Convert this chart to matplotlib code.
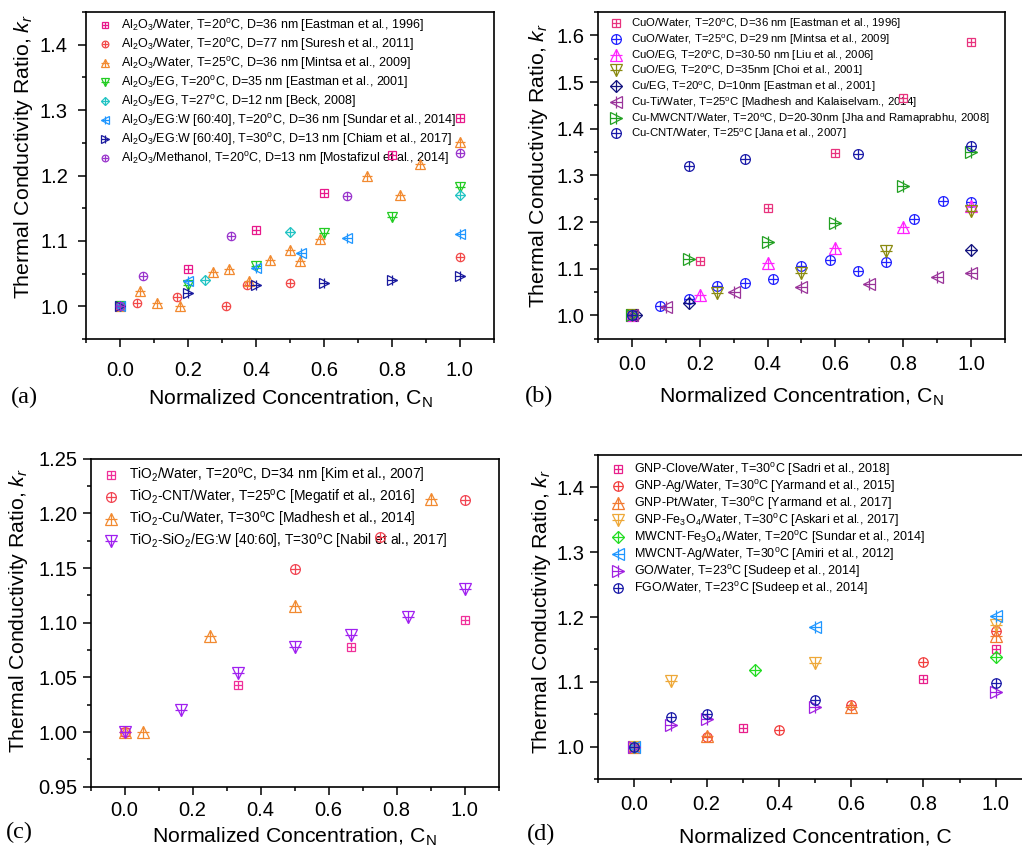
import numpy as np
import matplotlib
matplotlib.use('Agg')
import matplotlib.pyplot as plt
from matplotlib.ticker import MultipleLocator
from matplotlib.legend_handler import HandlerTuple

plt.rcParams['font.family'] = ['Liberation Sans', 'DejaVu Sans']
plt.rcParams['mathtext.fontset'] = 'custom'
plt.rcParams['mathtext.rm'] = 'Liberation Sans'
plt.rcParams['mathtext.it'] = 'Liberation Sans:italic'
plt.rcParams['mathtext.default'] = 'regular'

# ---------------- panel (a): Al2O3 ----------------
A_LABELS = [
    r'Al$_2$O$_3$/Water, T=20$^o$C, D=36 nm [Eastman et al., 1996]',
    r'Al$_2$O$_3$/Water, T=20$^o$C, D=77 nm [Suresh et al., 2011]',
    r'Al$_2$O$_3$/Water, T=25$^o$C, D=36 nm [Mintsa et al., 2009]',
    r'Al$_2$O$_3$/EG, T=20$^o$C, D=35 nm [Eastman et al., 2001]',
    r'Al$_2$O$_3$/EG, T=27$^o$C, D=12 nm [Beck, 2008]',
    r'Al$_2$O$_3$/EG:W [60:40], T=20$^o$C, D=36 nm [Sundar et al., 2014]',
    r'Al$_2$O$_3$/EG:W [60:40], T=30$^o$C, D=13 nm [Chiam et al., 2017]',
    r'Al$_2$O$_3$/Methanol, T=20$^o$C, D=13 nm [Mostafizul et al., 2014]',
]
A_X = [
    [0, 0.2, 0.4, 0.6, 0.8, 1.0],
    [0, 0.051, 0.167, 0.312, 0.375, 0.5, 1.0],
    [0, 0.058, 0.11, 0.176, 0.275, 0.32, 0.379, 0.441, 0.5, 0.531, 0.588, 0.727, 0.825, 0.884, 1.0],
    [0, 0.2, 0.4, 0.6, 0.8, 1.0],
    [0, 0.25, 0.5, 1.0],
    [0, 0.2, 0.4, 0.533, 0.667, 1.0],
    [0, 0.2, 0.4, 0.6, 0.8, 1.0],
    [0, 0.067, 0.327, 0.667, 1.0],
]
A_Y = [
    [1.0, 1.057, 1.116, 1.174, 1.231, 1.288],
    [1.0, 1.005, 1.014, 1.0, 1.033, 1.036, 1.076],
    [1.0, 1.024, 1.005, 1.001, 1.052, 1.057, 1.039, 1.071, 1.086, 1.070, 1.103, 1.200, 1.171, 1.217, 1.251],
    [1.0, 1.033, 1.062, 1.112, 1.136, 1.183],
    [1.0, 1.041, 1.113, 1.170],
    [1.0, 1.039, 1.058, 1.081, 1.105, 1.111],
    [1.0, 1.020, 1.032, 1.036, 1.041, 1.046],
    [1.0, 1.047, 1.108, 1.169, 1.234],
]
A_COLORS = ['#E8198C', '#F24848', '#F28A30', '#22CC22', '#22C4C4', '#1E96FF', '#1A1A9E', '#9933CC']
A_MARKERS = ['s', 'o', '^', 'v', 'D', '<', '>', 'o']

# ---------------- panel (b): Cu / CuO ----------------
B_LABELS = [
    r'CuO/Water, T=20$^o$C, D=36 nm [Eastman et al., 1996]',
    r'CuO/Water, T=25$^o$C, D=29 nm [Mintsa et al., 2009]',
    r'CuO/EG, T=20$^o$C, D=30-50 nm [Liu et al., 2006]',
    r'CuO/EG, T=20$^o$C, D=35nm [Choi et al., 2001]',
    r'Cu/EG, T=20$^o$C, D=10nm [Eastman et al., 2001]',
    r'Cu-Ti/Water, T=25$^o$C [Madhesh and Kalaiselvam., 2014]',
    r'Cu-MWCNT/Water, T=20$^o$C, D=20-30nm [Jha and Ramaprabhu, 2008]',
    r'Cu-CNT/Water, T=25$^o$C [Jana et al., 2007]',
]
B_X = [
    [0, 0.2, 0.4, 0.6, 0.8, 1.0],
    [0, 0.083, 0.167, 0.25, 0.333, 0.417, 0.5, 0.583, 0.667, 0.75, 0.833, 0.917, 1.0],
    [0, 0.2, 0.4, 0.6, 0.8, 1.0],
    [0, 0.25, 0.5, 0.75, 1.0],
    [0.012, 0.167, 1.0],
    [0, 0.1, 0.3, 0.5, 0.7, 0.9, 1.0],
    [0, 0.167, 0.4, 0.6, 0.8, 1.0],
    [0, 0.167, 0.333, 0.667, 1.0],
]
B_Y = [
    [1.0, 1.117, 1.229, 1.348, 1.466, 1.586],
    [1.0, 1.019, 1.035, 1.062, 1.070, 1.078, 1.105, 1.119, 1.095, 1.114, 1.206, 1.246, 1.243],
    [1.0, 1.044, 1.112, 1.144, 1.190, 1.235],
    [1.0, 1.048, 1.090, 1.138, 1.223],
    [1.0, 1.026, 1.139],
    [1.0, 1.017, 1.050, 1.061, 1.068, 1.083, 1.091],
    [1.0, 1.120, 1.158, 1.198, 1.277, 1.350],
    [1.0, 1.320, 1.336, 1.346, 1.362],
]
B_COLORS = ['#E8337E', '#2222FF', '#FF22FF', '#8A8A10', '#12127E', '#993399', '#22A022', '#1A1AA8']
B_MARKERS = ['s', 'o', '^', 'v', 'D', '<', '>', 'o']

# ---------------- panel (c): TiO2 ----------------
C_LABELS = [
    r'TiO$_2$/Water, T=20$^o$C, D=34 nm [Kim et al., 2007]',
    r'TiO$_2$-CNT/Water, T=25$^o$C [Megatif et al., 2016]',
    r'TiO$_2$-Cu/Water, T=30$^o$C [Madhesh et al., 2014]',
    r'TiO$_2$-SiO$_2$/EG:W [40:60], T=30$^o$C [Nabil et al., 2017]',
]
C_X = [
    [0, 0.333, 0.667, 1.0],
    [0, 0.5, 0.75, 1.0],
    [0, 0.055, 0.25, 0.5, 0.9],
    [0, 0.167, 0.333, 0.5, 0.667, 0.833, 1.0],
]
C_Y = [
    [1.0, 1.043, 1.078, 1.102],
    [1.0, 1.149, 1.178, 1.212],
    [1.0, 1.0, 1.088, 1.115, 1.213],
    [1.0, 1.020, 1.054, 1.078, 1.089, 1.105, 1.131],
]
C_COLORS = ['#F0309A', '#F24452', '#F28A30', '#A020F0']
C_MARKERS = ['s', 'o', '^', 'v']

# ---------------- panel (d): graphene / CNT hybrids ----------------
D_LABELS = [
    r'GNP-Clove/Water, T=30$^o$C [Sadri et al., 2018]',
    r'GNP-Ag/Water, T=30$^o$C [Yarmand et al., 2015]',
    r'GNP-Pt/Water, T=30$^o$C [Yarmand et al., 2017]',
    r'GNP-Fe$_3$O$_4$/Water, T=30$^o$C [Askari et al., 2017]',
    r'MWCNT-Fe$_3$O$_4$/Water, T=20$^o$C [Sundar et al., 2014]',
    r'MWCNT-Ag/Water, T=30$^o$C [Amiri et al., 2012]',
    r'GO/Water, T=23$^o$C [Sudeep et al., 2014]',
    r'FGO/Water, T=23$^o$C [Sudeep et al., 2014]',
]
D_X = [
    [0, 0.3, 0.8, 1.0],
    [0, 0.2, 0.4, 0.6, 0.8, 1.0],
    [0, 0.2, 0.6, 1.0],
    [0, 0.1, 0.5, 1.0],
    [0, 0.333, 1.0],
    [0, 0.5, 1.0],
    [0, 0.1, 0.2, 0.5, 1.0],
    [0, 0.1, 0.2, 0.5, 1.0],
]
D_Y = [
    [1.0, 1.029, 1.104, 1.150],
    [1.0, 1.015, 1.026, 1.064, 1.130, 1.179],
    [1.0, 1.017, 1.061, 1.171],
    [1.0, 1.102, 1.129, 1.188],
    [1.0, 1.118, 1.139],
    [1.0, 1.185, 1.201],
    [1.0, 1.033, 1.043, 1.062, 1.084],
    [1.0, 1.046, 1.051, 1.072, 1.098],
]
D_COLORS = ['#E8208C', '#F24040', '#F27A30', '#EEA838', '#22DD22', '#1E96FF', '#A020E0', '#1A1AA8']
D_MARKERS = ['s', 'o', '^', 'v', 'D', '<', '>', 'o']

# marker size factor (open marker, plus sign)
MK_SCALE = {'s': (0.85, 0.85), 'o': (1.0, 1.0), '^': (1.25, 1.25), 'v': (1.25, 1.25),
            '<': (1.25, 1.25), '>': (1.25, 1.25), 'D': (0.85, 1.2)}

LABEL_FS = 15.3


def draw_series(ax, x, y, marker, color, ms):
    fo, fp = MK_SCALE[marker]
    h1, = ax.plot(x, y, ls='none', marker=marker, mfc='none', mec=color,
                  ms=ms * fo, mew=0.9, zorder=3, clip_on=False)
    h2, = ax.plot(x, y, ls='none', marker='+', color=color,
                  ms=ms * fp, mew=0.9, zorder=3, clip_on=False)
    return (h1, h2)


def make_panel(rect, xs, ys, labels, colors, markers, ylim, ymaj, ymin, yfmt, ms,
               leg, xpad, ypad, xl_y, yl_xy, xlabel, tag, tag_pos):
    leg_fs, leg_anchor, leg_space, mscale = leg
    ax = fig.add_axes(rect)
    handles = []
    for x, y, c, m in zip(xs, ys, colors, markers):
        handles.append(draw_series(ax, x, y, m, c, ms))
    ax.set_xlim(-0.1, 1.1)
    ax.set_ylim(*ylim)
    ax.xaxis.set_major_locator(MultipleLocator(0.2))
    ax.xaxis.set_minor_locator(MultipleLocator(0.1))
    ax.yaxis.set_major_locator(MultipleLocator(ymaj))
    ax.yaxis.set_minor_locator(MultipleLocator(ymin))
    ax.yaxis.set_major_formatter(plt.FormatStrFormatter(yfmt))
    ax.tick_params(which='both', direction='out', top=False, right=False, width=1.1,
                   labelsize=14.5)
    ax.tick_params(which='major', length=6)
    ax.tick_params(which='minor', length=3)
    ax.tick_params(axis='x', which='major', pad=xpad)
    ax.tick_params(axis='y', which='major', pad=ypad)
    for s in ax.spines.values():
        s.set_linewidth(1.2)
    ax.set_ylabel(r'Thermal Conductivity Ratio, $\mathit{k_r}$', fontsize=LABEL_FS,
                  va='center')
    ax.yaxis.set_label_coords(*yl_xy)
    ax.set_xlabel(xlabel, fontsize=LABEL_FS, va='baseline')
    ax.xaxis.set_label_coords(0.5, xl_y)
    lg = ax.legend(handles, labels, loc='upper left', bbox_to_anchor=leg_anchor,
                   frameon=False, fontsize=leg_fs, handlelength=1.0, handletextpad=0.8,
                   labelspacing=leg_space, borderaxespad=0, numpoints=1,
                   markerscale=mscale, handler_map={tuple: HandlerTuple(ndivide=1)})
    lg.set_zorder(2)
    fig.text(tag_pos[0], tag_pos[1], tag, fontsize=17.5, family='Liberation Serif',
             va='center', ha='left')
    return ax


fig = plt.figure(figsize=(10.22, 8.48), dpi=100)

XL_N = r'Normalized Concentration, C$_N$'

make_panel([0.0841, 0.6002, 0.3992, 0.3856], A_X, A_Y, A_LABELS, A_COLORS, A_MARKERS,
           (0.95, 1.45), 0.1, 0.05, '%.1f', 6.0, (9.0, (0.018, 1.0), 0.16, 0.8),
           9.5, 7.0, -0.2016, (-0.152, 0.557), XL_N, '(a)', (0.011, 0.531))
make_panel([0.5851, 0.6006, 0.3982, 0.3852], B_X, B_Y, B_LABELS, B_COLORS, B_MARKERS,
           (0.95, 1.65), 0.1, 0.05, '%.1f', 7.0, (8.2, (0.02, 1.0), 0.12, 1.0),
           5.5, 3.6, -0.197, (-0.147, 0.53), XL_N, '(b)', (0.514, 0.532))
make_panel([0.0887, 0.0723, 0.3992, 0.3868], C_X, C_Y, C_LABELS, C_COLORS, C_MARKERS,
           (0.95, 1.25), 0.05, 0.025, '%.2f', 7.0, (9.9, (0.02, 0.995), 0.22, 1.0),
           4.5, 3.4, -0.1695, (-0.176, 0.537), XL_N, '(c)', (0.006, 0.018))
make_panel([0.5854, 0.0810, 0.4242, 0.3828], D_X, D_Y, D_LABELS, D_COLORS, D_MARKERS,
           (0.95, 1.45), 0.1, 0.05, '%.1f', 6.8, (9.0, (0.02, 0.995), 0.0, 1.0),
           5.0, 3.8, -0.194, (-0.132, 0.517), 'Normalized Concentration, C', '(d)',
           (0.516, 0.016))

fig.savefig('out.png', dpi=100)
